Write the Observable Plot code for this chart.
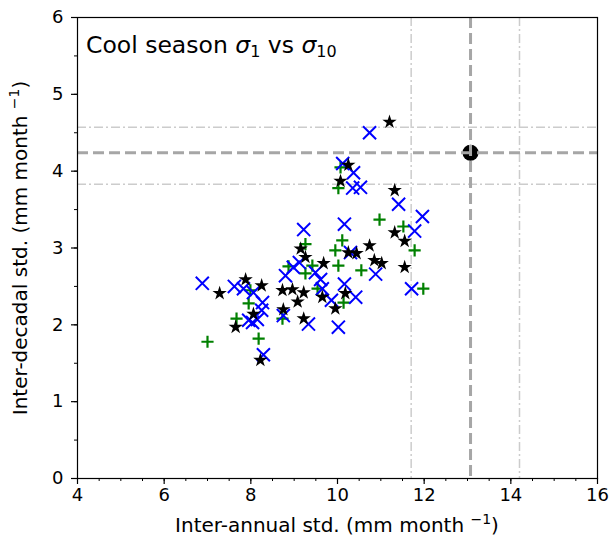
<!DOCTYPE html>
<html>
<head>
<meta charset="utf-8">
<script src="https://cdn.jsdelivr.net/npm/d3@7"></script>
<script src="https://cdn.jsdelivr.net/npm/@observablehq/plot@0.6"></script>
<style>
  html, body { margin: 0; padding: 0; background: #fff; }
  #chart svg { display: block; }
</style>
</head>
<body>
<div id="chart"></div>
<script>
// Green "+" models (inter-annual std, inter-decadal std)
const greenX = [7.00, 8.18, 7.95, 7.67, 8.73, 8.87, 9.26, 9.42, 9.54, 9.26, 9.95, 10.02, 10.11, 10.14, 10.55, 10.97, 11.52, 11.78, 11.98, 10.07, 10.02, 7.99];
const greenY = [1.78, 1.82, 2.28, 2.08, 2.08, 2.76, 2.67, 2.77, 2.47, 3.05, 2.97, 2.77, 3.10, 2.29, 2.71, 3.37, 3.28, 2.97, 2.47, 4.05, 3.78, 2.45];
// Blue "x" models
const blueX = [6.88, 7.62, 7.83, 8.06, 8.27, 8.25, 7.95, 8.15, 8.29, 8.80, 8.75, 9.33, 9.12, 8.98, 9.49, 9.61, 9.65, 9.86, 10.02, 10.16, 10.42, 10.30, 10.88, 11.71, 11.78, 11.96, 11.41, 9.22, 10.16, 10.12, 10.37, 10.35, 10.53, 10.74, 8.04];
const blueY = [2.54, 2.50, 2.47, 2.42, 2.29, 2.19, 2.06, 2.07, 1.61, 2.64, 2.12, 2.01, 2.81, 2.75, 2.68, 2.59, 2.47, 2.32, 1.97, 2.53, 2.36, 2.94, 2.66, 2.47, 3.22, 3.41, 3.57, 3.24, 3.31, 4.10, 3.98, 3.78, 3.79, 4.50, 2.03];
// Black star models
const blackX = [7.28, 7.88, 8.25, 7.65, 8.06, 8.22, 8.73, 8.96, 9.22, 9.08, 8.75, 9.22, 9.15, 9.26, 9.68, 9.65, 9.95, 10.18, 10.25, 10.44, 10.74, 10.85, 11.02, 11.55, 11.32, 11.55, 11.32, 11.20, 10.25, 10.07];
const blackY = [2.41, 2.59, 2.51, 1.97, 2.14, 1.54, 2.45, 2.46, 2.42, 2.30, 2.20, 2.08, 2.99, 2.88, 2.80, 2.36, 2.21, 2.41, 2.94, 2.93, 3.03, 2.84, 2.80, 2.75, 3.20, 3.09, 3.75, 4.64, 4.08, 3.87];
// Observation and its range
const obsX = [13.07];
const obsY = [4.24];
const obsRangeX = [11.70, 14.20];
const obsRangeY = [3.83, 4.57];
// Tick labels
const xTicks = [4, 6, 8, 10, 12, 14, 16];
const yTicks = [0, 1, 2, 3, 4, 5, 6];
const xMinor = d3.range(4, 16.01, 0.5);
const yMinor = d3.range(0, 6.01, 0.5);

const green = greenX.map((x, i) => ({x, y: greenY[i]}));
const blue = blueX.map((x, i) => ({x, y: blueY[i]}));
const black = blackX.map((x, i) => ({x, y: blackY[i]}));
const obs = obsX.map((x, i) => ({x, y: obsY[i]}));

const font = "DejaVu Sans, sans-serif";
const fmt = d3.format("d");

const chart = Plot.plot({
  width: 611,
  height: 542,
  marginLeft: 77,
  marginRight: 14,
  marginTop: 17,
  marginBottom: 64,
  style: {fontFamily: font, fontSize: "18px", color: "#000", background: "#fff"},
  x: {domain: [4, 16]},
  y: {domain: [0, 6]},
  marks: [
    Plot.ruleX(obsRangeX, {stroke: "#cccccc", strokeWidth: 1.5, strokeDasharray: "9,3,2,3"}),
    Plot.ruleY(obsRangeY, {stroke: "#cccccc", strokeWidth: 1.5, strokeDasharray: "9,3,2,3"}),
    Plot.dot(green, {x: "x", y: "y", symbol: "plus", r: 4, stroke: "#008000", strokeWidth: 2.2}),
    Plot.dot(blue, {x: "x", y: "y", symbol: "times", r: 6, stroke: "#0000ff", strokeWidth: 2}),
    Plot.dot(black, {x: "x", y: "y", symbol: "star", r: 4.5, fill: "#000", stroke: "none"}),
    Plot.dot(obs, {x: "x", y: "y", r: 8, fill: "#000", stroke: "none"}),
    Plot.ruleX(obsX, {stroke: "#a6a6a6", strokeWidth: 3, strokeDasharray: "11,5"}),
    Plot.ruleY(obsY, {stroke: "#a6a6a6", strokeWidth: 3, strokeDasharray: "11,5"}),
    Plot.axisX(xMinor, {tickSize: 3, text: null, label: null, strokeWidth: 1}),
    Plot.axisY(yMinor, {tickSize: 3, text: null, label: null, strokeWidth: 1}),
    Plot.axisX(xTicks, {tickSize: 6, tickPadding: 4, label: null, fontSize: 18, strokeWidth: 1.2, tickFormat: fmt}),
    Plot.axisY(yTicks, {tickSize: 6, tickPadding: 8, label: null, fontSize: 18, strokeWidth: 1.2, tickFormat: fmt}),
    Plot.frame({stroke: "#000", strokeWidth: 1.2})
  ]
});

document.getElementById("chart").appendChild(chart);

const svg = d3.select(chart);

// Title inside the plot
const t = svg.append("text")
  .attr("x", 86).attr("y", 53).attr("text-anchor", "start")
  .attr("font-family", font).attr("font-size", 23.5).attr("fill", "#000");
t.append("tspan").text("Cool season ");
t.append("tspan").attr("font-style", "italic").text("σ");
t.append("tspan").attr("font-size", 16).attr("dy", 4).text("1");
t.append("tspan").attr("dy", -4).text(" vs ");
t.append("tspan").attr("font-style", "italic").text("σ");
t.append("tspan").attr("font-size", 16).attr("dy", 4).text("10");

// X axis label
const xl = svg.append("text")
  .attr("x", 337).attr("y", 532).attr("text-anchor", "middle")
  .attr("font-family", font).attr("font-size", 20).attr("fill", "#000");
xl.append("tspan").text("Inter-annual std. (mm month ");
xl.append("tspan").attr("font-size", 14).attr("dy", -8).text("−1");
xl.append("tspan").attr("dy", 8).text(")");

// Y axis label
const yl = svg.append("text")
  .attr("transform", "translate(27,248) rotate(-90)").attr("text-anchor", "middle")
  .attr("font-family", font).attr("font-size", 20).attr("fill", "#000");
yl.append("tspan").text("Inter-decadal std. (mm month ");
yl.append("tspan").attr("font-size", 14).attr("dy", -8).text("−1");
yl.append("tspan").attr("dy", 8).text(")");
</script>
</body>
</html>
